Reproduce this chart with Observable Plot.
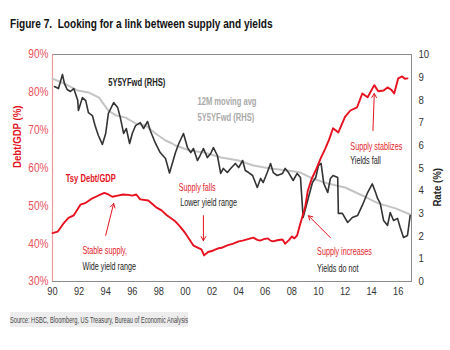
<!DOCTYPE html>
<html>
<head>
<meta charset="utf-8">
<script src="https://cdn.jsdelivr.net/npm/d3@7"></script>
<script src="https://cdn.jsdelivr.net/npm/@observablehq/plot@0.6"></script>
<style>
  html, body { margin: 0; padding: 0; background: #fff; }
  #wrap { position: relative; width: 450px; height: 350px; overflow: hidden;
    font-family: "Liberation Sans Narrow", "Arial Narrow", "Liberation Sans", Arial, sans-serif; }
  #title { position: absolute; left: 0; top: 0; }
  #chart { position: absolute; left: 0; top: 40px; }
  #source { position: absolute; left: 0; top: 310px; }
</style>
</head>
<body>
<div id="wrap">
  <div id="title"></div>
  <div id="chart"></div>
  <div id="source"></div>
</div>
<script>
// Tsy Debt/GDP (%) — left axis
const debtYears = [1990.0,1990.4,1990.8,1991.2,1991.6,1992.1,1992.5,1993.0,1993.5,1993.9,1994.2,1994.5,1994.9,1995.3,1995.7,1996.0,1996.3,1996.6,1997.2,1997.8,1998.2,1998.6,1999.2,1999.6,2000.0,2000.6,2001.0,2001.2,2001.4,2001.7,2002.1,2002.5,2002.8,2003.2,2003.6,2004.0,2004.3,2004.7,2005.1,2005.4,2005.6,2005.9,2006.2,2006.4,2006.6,2006.9,2007.3,2007.5,2007.8,2008.0,2008.2,2008.4,2008.6,2009.0,2009.2,2009.5,2009.8,2010.2,2010.5,2010.8,2011.1,2011.5,2012.0,2012.4,2012.9,2013.3,2013.7,2014.2,2014.5,2014.9,2015.2,2015.5,2015.7,2016.0,2016.3,2016.5,2016.7];
const debtValues = [42.8,43.2,45.2,46.8,47.5,50.3,50.8,52.0,52.8,53.4,53.0,52.4,52.7,53.0,52.9,52.7,53.0,51.7,51.4,49.6,48.8,47.5,46.0,44.5,42.7,39.5,38.8,38.5,36.9,37.8,38.2,38.8,39.0,39.6,40.0,40.6,40.8,41.2,41.6,41.0,40.8,41.2,41.4,40.8,40.6,40.9,41.1,40.0,41.0,41.9,41.4,42.2,44.8,49.6,54.0,57.2,59.4,62.8,65.0,67.5,70.5,69.4,73.5,75.2,76.0,79.7,78.7,81.9,80.3,80.5,81.3,80.6,79.7,83.7,84.2,83.6,83.7];

// 5Y5YFwd (%) — right axis
const fwdYears = [1990.15,1990.45,1990.75,1990.9,1991.1,1991.35,1991.6,1991.9,1991.95,1992.25,1992.5,1992.7,1993.0,1993.2,1993.45,1993.75,1994.0,1994.2,1994.6,1994.9,1995.1,1995.35,1995.55,1995.8,1996.0,1996.25,1996.6,1996.85,1997.15,1997.35,1997.75,1998.1,1998.5,1998.8,1999.25,1999.5,1999.85,2000.15,2000.4,2000.6,2000.9,2001.1,2001.35,2001.65,2001.9,2002.1,2002.4,2002.65,2002.85,2003.15,2003.4,2003.75,2004.0,2004.3,2004.5,2004.75,2005.05,2005.4,2005.65,2005.85,2006.15,2006.4,2006.6,2006.9,2007.3,2007.5,2007.75,2008.1,2008.4,2008.65,2008.85,2009.25,2009.55,2009.8,2010.0,2010.2,2010.4,2010.7,2010.9,2011.1,2011.45,2011.5,2011.8,2012.2,2012.55,2012.95,2013.3,2013.7,2014.05,2014.3,2014.45,2014.65,2014.9,2015.2,2015.4,2015.65,2015.95,2016.15,2016.4,2016.7,2016.9];
const fwdValues = [8.59,8.5,9.12,8.72,8.46,8.37,8.5,7.97,7.53,8.1,7.97,7.44,7.31,6.87,6.43,6.04,6.52,7.4,7.88,7.67,7.22,6.52,6.74,6.08,6.52,6.87,7.0,6.74,7.05,6.65,6.08,5.68,5.42,4.78,5.68,6.08,6.52,5.9,5.68,5.86,5.33,5.55,5.86,5.46,5.64,5.9,5.55,4.76,4.98,4.8,4.98,5.2,5.02,5.33,4.89,4.8,4.67,4.14,4.54,4.36,4.8,5.2,4.8,4.67,4.76,4.98,4.8,4.45,4.76,4.58,2.82,3.7,4.36,4.58,5.11,5.2,4.32,3.92,4.54,4.67,4.58,3.0,3.0,2.6,2.82,2.91,3.35,3.92,4.3,3.92,3.66,3.44,2.69,2.47,3.04,2.69,2.78,2.38,1.94,2.03,2.91];

// 12M moving avg 5Y5YFwd (%) — right axis
const avgYears = [1990.0,1990.9,1991.9,1992.7,1993.5,1994.2,1994.8,1995.5,1996.25,1997.0,1997.75,1998.5,1999.0,1999.25,2000.3,2001.4,2002.7,2004.0,2005.1,2006.4,2007.7,2008.65,2009.5,2010.7,2012.0,2013.3,2014.5,2015.8,2016.9];
const avgValues = [8.94,8.72,8.41,8.33,8.1,7.53,7.31,7.22,6.96,6.87,6.52,6.21,6.08,5.99,5.77,5.68,5.46,5.33,5.11,4.98,4.89,4.8,4.55,4.32,4.14,3.79,3.44,3.22,2.95];

const xTicks = [1990,1992,1994,1996,1998,2000,2002,2004,2006,2008,2010,2012,2014,2016];
const leftTicks = [30,40,50,60,70,80,90];
const rightTicks = [0,1,2,3,4,5,6,7,8,9,10];

// annotations, in data units (year, Debt/GDP %)
const labelTexts = ["5Y5YFwd (RHS)","12M moving avg","5Y5YFwd (RHS)","Tsy Debt/GDP","Supply falls","Lower yield range","Stable supply,","Wide yield range","Supply increases","Yields do not","Supply stablizes","Yields fall"];
const labelX = [1994.2,2000.9,2000.9,1991.0,1999.5,1999.6,1992.25,1992.25,2009.9,2009.9,2012.4,2012.4];
const labelY = [82.6,77.6,73.4,57.2,54.8,50.9,38.2,34.0,37.9,33.4,65.7,62.0];
const labelColor = ["#222","#aaaaaa","#aaaaaa","#e3121d","#e3202a","#222","#e3202a","#222","#e3202a","#222","#e3202a","#222"];
const labelBold = [true,true,true,true,false,false,false,false,false,false,false,false];

const arrowX1 = [1994.0,2001.35,2010.9,2014.1];
const arrowY1 = [42.2,47.4,41.6,69.9];
const arrowX2 = [1994.6,2001.35,2009.25,2014.2];
const arrowY2 = [50.6,40.8,47.4,79.7];

const titleText = "Figure 7.\u00a0 Looking for a link between supply and yields";
const sourceText = "Source: HSBC, Bloomberg, US Treasury, Bureau of Economic Analysis";
const leftTitle = "Debt/GDP (%)";
const rightTitle = "Rate (%)";

const rateToLeft = r => 30 + 6 * r;

const debt = debtYears.map((x, i) => ({x, y: debtValues[i]}));
const fwd = fwdYears.map((x, i) => ({x, y: rateToLeft(fwdValues[i])}));
const avg = avgYears.map((x, i) => ({x, y: rateToLeft(avgValues[i])}));
const labels = labelTexts.map((t, i) => ({t, x: labelX[i], y: labelY[i], c: labelColor[i], b: labelBold[i]}));
const arrows = arrowX1.map((x1, i) => ({x1, y1: arrowY1[i], x2: arrowX2[i], y2: arrowY2[i]}));

const FONT = '"Liberation Sans Narrow", "Arial Narrow", "Liberation Sans", Arial, sans-serif';

// horizontal squeeze to emulate the Arial Narrow face of the original
function squeeze(t, f) {
  const tr = t.getAttribute("transform");
  if (tr) {
    t.setAttribute("transform", tr + ` scale(${f},1)`);
  } else {
    const x = +t.getAttribute("x") || 0, y = +t.getAttribute("y") || 0;
    t.removeAttribute("x"); t.removeAttribute("y");
    t.setAttribute("transform", `translate(${x},${y}) scale(${f},1)`);
  }
}

// title (above the chart)
{
  const svg = d3.select("#title").append("svg").attr("width", 450).attr("height", 40);
  const t = svg.append("text").attr("transform", "translate(10,28)")
    .attr("font-family", FONT).attr("font-size", 13.5).attr("font-weight", "bold").attr("fill", "#111")
    .text(titleText);
  const w = t.node().getComputedTextLength();
  squeeze(t.node(), w > 0 ? 263 / w : 0.75);
}

const chart = Plot.plot({
  width: 450,
  height: 270,
  marginTop: 14,
  marginBottom: 29,
  marginLeft: 52,
  marginRight: 39,
  style: {fontFamily: FONT, fontSize: "10.5px", background: "transparent", overflow: "visible"},
  x: {domain: [1990, 2017]},
  y: {domain: [30, 90]},
  marks: [
    Plot.frame({stroke: "#8c8c8c", strokeWidth: 1}),
    Plot.ruleX([1990], {stroke: "#f29a9a", strokeWidth: 1.2}),
    Plot.axisX({ticks: xTicks, tickSize: 0, tickPadding: 6, tickFormat: d => String(d % 100).padStart(2, "0"), label: null, fill: "#333", fontSize: 11}),
    Plot.axisY({anchor: "left", ticks: leftTicks, tickSize: 0, tickPadding: 4, tickFormat: d => d + "%", label: null, fill: "#e8505a", fontSize: 12}),
    Plot.axisY({anchor: "right", ticks: rightTicks.map(rateToLeft), tickSize: 0, tickPadding: 7, tickFormat: d => String(Math.round((d - 30) / 6)), label: null, fill: "#333", fontSize: 11.5}),
    Plot.text([leftTitle], {frameAnchor: "left", dx: -35, rotate: -90, fill: "#e3121d", fontWeight: "bold", fontSize: 11.5}),
    Plot.text([rightTitle], {frameAnchor: "right", dx: 26, rotate: -90, fill: "#222", fontWeight: "bold", fontSize: 11.5}),
    Plot.line(avg, {x: "x", y: "y", stroke: "#c4c4c4", strokeWidth: 2}),
    Plot.line(fwd, {x: "x", y: "y", stroke: "#333", strokeWidth: 1.6}),
    Plot.line(debt, {x: "x", y: "y", stroke: "#e8101e", strokeWidth: 1.9}),
    Plot.arrow(arrows, {x1: "x1", y1: "y1", x2: "x2", y2: "y2", stroke: "#e3121d", strokeWidth: 1, headLength: 7}),
    Plot.text(labels.filter(d => d.b), {x: "x", y: "y", text: "t", fill: "c", textAnchor: "start", fontWeight: "bold", fontSize: 10}),
    Plot.text(labels.filter(d => !d.b), {x: "x", y: "y", text: "t", fill: "c", textAnchor: "start", fontSize: 10})
  ]
});
document.getElementById("chart").appendChild(chart);

const boldSet = new Set(labels.filter(d => d.b).map(d => d.t));
const plainSet = new Set(labels.filter(d => !d.b).map(d => d.t));
chart.querySelectorAll("text").forEach(t => {
  const s = t.textContent;
  let f = 0.84;
  if (boldSet.has(s)) f = 0.76;
  else if (plainSet.has(s)) f = 0.72;
  squeeze(t, f);
});

// source note (below the chart)
{
  const svg = d3.select("#source").append("svg").attr("width", 450).attr("height", 40);
  svg.append("rect").attr("x", 10).attr("y", 2).attr("width", 178).attr("height", 15).attr("fill", "#ededed");
  const t = svg.append("text").attr("transform", "translate(10,13)")
    .attr("font-family", FONT).attr("font-size", 9).attr("fill", "#444")
    .text(sourceText);
  squeeze(t.node(), 0.63);
}
</script>
</body>
</html>
